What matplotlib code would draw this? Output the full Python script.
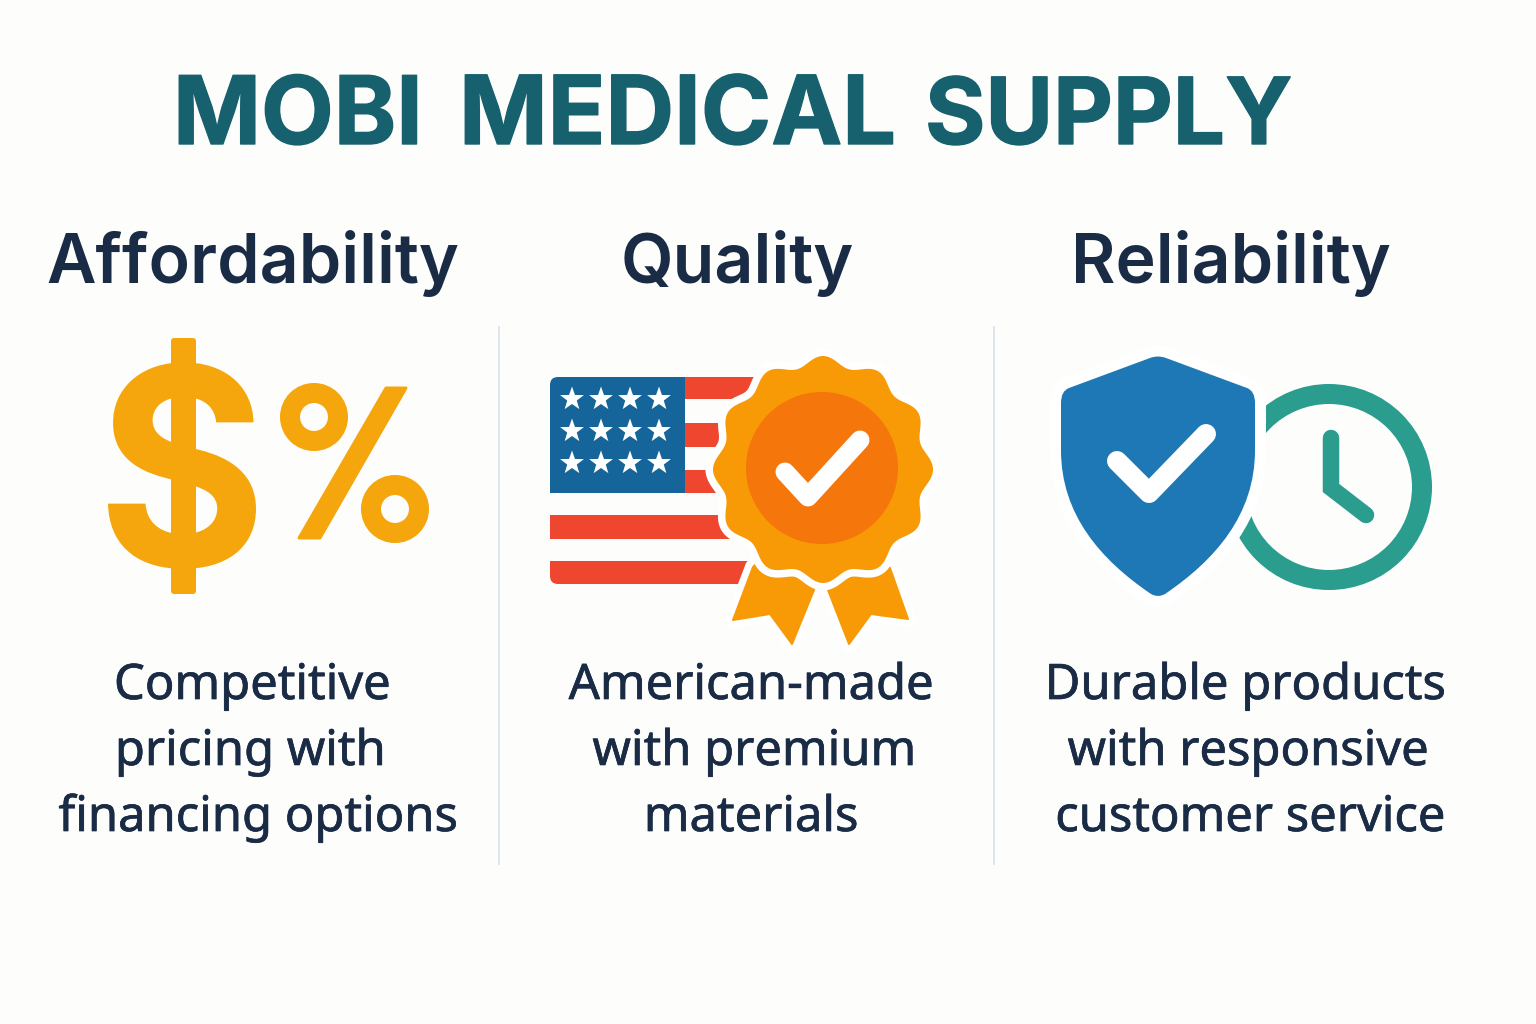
import numpy as np
import matplotlib
matplotlib.use("Agg")
import matplotlib.pyplot as plt
import matplotlib.patheffects as pe
from matplotlib.patches import Circle, FancyBboxPatch, PathPatch, Polygon
from matplotlib.path import Path
from matplotlib.textpath import TextPath
from matplotlib.font_manager import FontProperties
from matplotlib.transforms import Affine2D

title_words = ["MOBI", "MEDICAL", "SUPPLY"]
title_x = [173, 459, 925]
title_size = [68, 68.5, 66.5]
headings = ["Affordability", "Quality", "Reliability"]
heading_x = [253, 737, 1231]
body_lines = [
    ["Competitive", "pricing with", "financing options"],
    ["American-made", "with premium", "materials"],
    ["Durable products", "with responsive", "customer service"],
]
body_x = [[252, 250, 258], [751, 754, 751], [1245, 1248, 1250]]
body_y = [699, 765, 831]
divider_x = [499, 994]

BG = "#FDFDFC"
TEAL = "#17616F"
NAVY = "#1A2B45"
GOLD = "#F5A60D"
RED = "#EE462F"
BLUE = "#16659A"
ORANGE = "#F79A06"
DEEP_ORANGE = "#F5760A"
SHIELD = "#1D78B5"
GREEN = "#2A9D8F"

PX = 0.72  # one pixel in points at dpi 100

fig = plt.figure(figsize=(15.36, 10.24), dpi=100, facecolor=BG)
ax = fig.add_axes([0, 0, 1, 1])
ax.set_xlim(0, 1536)
ax.set_ylim(1024, 0)
ax.axis("off")


def check(points, width, color="white", z=10):
    xs, ys = zip(*points)
    ax.plot(xs, ys, color=color, lw=width * PX, solid_capstyle="round",
            solid_joinstyle="round", zorder=z)


# title and headings
for word, x, size in zip(title_words, title_x, title_size):
    ax.text(x, 144, word, family="Inter", weight="bold", fontsize=size, color=TEAL, va="baseline", ha="left",
            path_effects=[pe.withStroke(linewidth=1.0, foreground=TEAL)])
for name, x in zip(headings, heading_x):
    ax.text(x, 283, name, family="Inter", weight="semibold", fontsize=49, color=NAVY, va="baseline", ha="center")
for lines, xs in zip(body_lines, body_x):
    for line, x, y in zip(lines, xs, body_y):
        ax.text(x, y, line, family="Noto Sans", fontsize=35.2, color=NAVY, va="baseline", ha="center",
                path_effects=[pe.withStroke(linewidth=0.5, foreground=NAVY)])

for x in divider_x:
    ax.plot([x, x], [327, 864], color="#DCE6EC", lw=2 * PX)

# dollar sign fitted to its box, with the wider stem of the original
glyph = TextPath((0, 0), "$", size=100, prop=FontProperties(family="Inter", weight="bold"))
bb = glyph.get_extents()
tr = (Affine2D().translate(-bb.x0, -bb.y0).scale(148 / bb.width, -255 / bb.height)
      .translate(108, 593))
ax.add_patch(PathPatch(glyph.transformed(tr), fc=GOLD, ec="none"))
ax.add_patch(FancyBboxPatch((173, 340), 21, 252, boxstyle="round,pad=2,rounding_size=3", fc=GOLD, ec="none"))

# percent sign
for cx, cy in [(314, 417), (395, 509)]:
    ax.add_patch(Circle((cx, cy), 24, fc="none", ec=GOLD, lw=20 * PX))
ax.add_patch(Polygon([(386, 388), (406, 388), (320, 538), (299, 538)], fc=GOLD, ec=GOLD, lw=3 * PX, joinstyle="round"))

# flag
ax.add_patch(Polygon([(550, 515), (770, 515), (770, 539), (550, 539)], fc=RED, ec="none", zorder=2))
ax.add_patch(PathPatch(Path([(550, 561), (770, 561), (770, 584), (558, 584), (550, 584), (550, 576), (550, 561)],
                            [Path.MOVETO, Path.LINETO, Path.LINETO, Path.LINETO, Path.CURVE3, Path.CURVE3, Path.LINETO]),
                       fc=RED, ec="none", zorder=2))
for y0, y1 in [(377, 399), (423, 447), (470, 493)]:
    ax.add_patch(Polygon([(685, y0), (770, y0), (770, y1), (685, y1)], fc=RED, ec="none", zorder=2))
ax.add_patch(PathPatch(Path([(550, 493), (550, 385), (550, 377), (558, 377), (685, 377), (685, 493), (550, 493)],
                            [Path.MOVETO, Path.LINETO, Path.CURVE3, Path.CURVE3, Path.LINETO, Path.LINETO, Path.CLOSEPOLY]),
                       fc=BLUE, ec="none", zorder=2))
for sy in [399, 431, 463]:
    for sx in [572, 601, 630, 659]:
        ang = np.radians(-90 + 36 * np.arange(10))
        rad = np.where(np.arange(10) % 2 == 0, 12.5, 5)
        ax.add_patch(Polygon(np.c_[sx + rad * np.cos(ang), sy + rad * np.sin(ang)], fc="white", ec="none", zorder=3))

# ribbon tails
tail_left = [(790, 530), (753, 567), (733, 620), (770, 614), (792, 644), (814, 590), (830, 540)]
tail_right = [(850, 530), (890, 568), (908, 619), (871, 614), (849, 644), (828, 590), (810, 540)]
for pts in (tail_left, tail_right):
    ax.add_patch(Polygon(pts, fc=ORANGE, ec="white", lw=16 * PX, joinstyle="round", zorder=4))
    ax.add_patch(Polygon(pts, fc=ORANGE, ec=ORANGE, lw=2 * PX, joinstyle="round", zorder=5))

# badge
theta = np.linspace(0, 2 * np.pi, 361)
wave = 1 + 0.045 * np.cos(12 * (theta - np.pi / 2))
badge = np.c_[823 + 105.3 * wave * np.cos(theta), 469.5 + 108.6 * wave * np.sin(theta)]
ax.add_patch(Polygon(badge, fc="white", ec="white", lw=15 * PX, zorder=6))
ax.add_patch(Polygon(badge, fc=ORANGE, ec="none", zorder=7))
ax.add_patch(Circle((822, 468), 76, fc=DEEP_ORANGE, ec="none", zorder=8))
check([(785, 472), (808, 497), (860, 440)], 19)

# clock
ax.add_patch(Circle((1329, 487), 93, fc="none", ec=GREEN, lw=20 * PX, zorder=2))
ax.plot([1331, 1331, 1366], [438, 488, 515], color=GREEN, lw=16.5 * PX, solid_capstyle="round",
        solid_joinstyle="miter", zorder=2)

# shield
shield_path = Path(
    [(1150, 358), (1158, 355), (1166, 358), (1247, 388), (1255, 391), (1255, 403), (1255, 450),
     (1255, 515), (1215, 560), (1165, 594), (1158, 598), (1151, 594),
     (1101, 560), (1061, 515), (1061, 450), (1061, 403), (1061, 391),
     (1069, 388), (1150, 358)],
    [Path.MOVETO, Path.CURVE3, Path.CURVE3, Path.LINETO, Path.CURVE3, Path.CURVE3, Path.LINETO,
     Path.CURVE4, Path.CURVE4, Path.CURVE4, Path.CURVE3, Path.CURVE3,
     Path.CURVE4, Path.CURVE4, Path.CURVE4, Path.LINETO, Path.CURVE3,
     Path.CURVE3, Path.LINETO])
ax.add_patch(PathPatch(shield_path, fc="white", ec="white", lw=22 * PX, zorder=3))
ax.add_patch(PathPatch(shield_path, fc=SHIELD, ec="none", zorder=4))
check([(1117, 461), (1149, 493), (1206, 434)], 20)

fig.savefig("out.png", dpi=100, facecolor=BG)
